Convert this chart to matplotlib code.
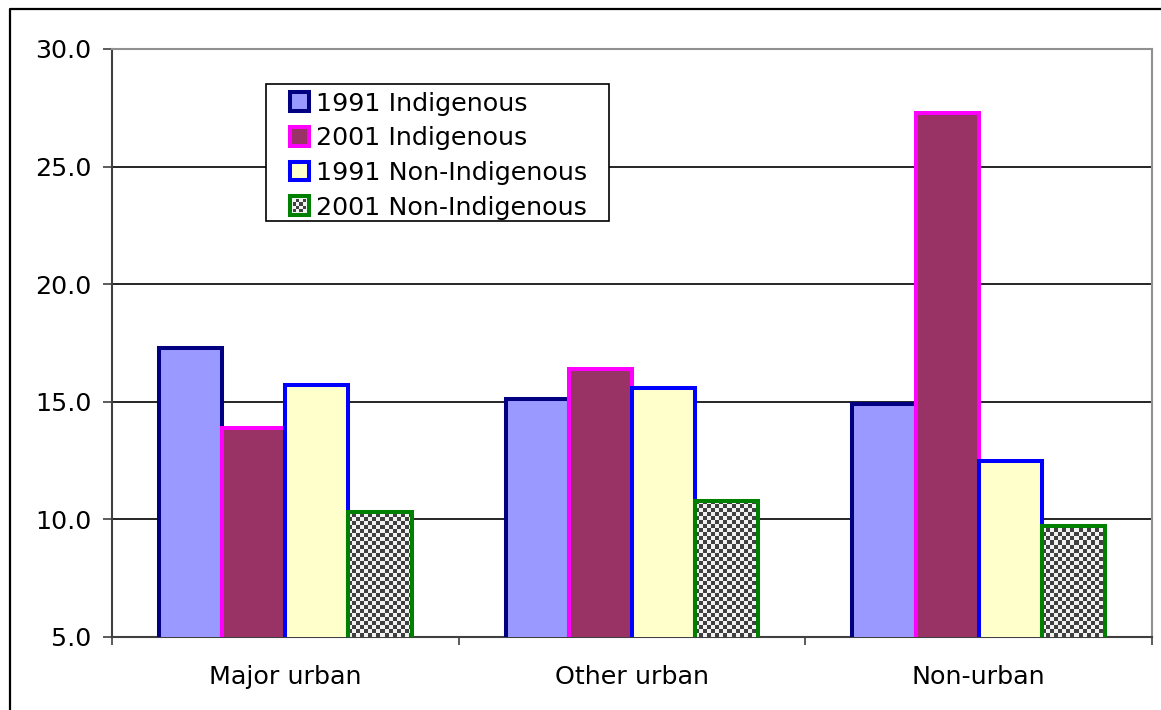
import numpy as np
import matplotlib
matplotlib.use("Agg")
import matplotlib.pyplot as plt
from matplotlib.patches import Rectangle
from matplotlib.lines import Line2D
from matplotlib.legend_handler import HandlerBase

categories = ["Major urban", "Other urban", "Non-urban"]
series_names = ["1991 Indigenous", "2001 Indigenous",
                "1991 Non-Indigenous", "2001 Non-Indigenous"]
ind_1991 = [17.3, 15.1, 14.9]
ind_2001 = [13.9, 16.4, 27.3]
non_1991 = [15.7, 15.6, 12.5]
non_2001 = [10.3, 10.8, 9.7]
y_ticks = [5.0, 10.0, 15.0, 20.0, 25.0, 30.0]

series_values = [ind_1991, ind_2001, non_1991, non_2001]
face_colors = ["#9999FF", "#993366", "#FFFFCC", None]
edge_colors = ["#000080", "#FF00FF", "#0000FF", "#008000"]

CHECK_DARK = "#404040"
CHECK_LIGHT = "#F2F2F2"
FONT_SIZE = 18.3

W, H = 1161, 710
fig = plt.figure(figsize=(W / 100, H / 100), dpi=100)
ax = fig.add_axes([112 / W, 1 - 637 / H, (1152 - 112) / W, (637 - 49) / H])

x = np.arange(len(categories))
width = 0.182
offsets = (np.arange(4) - 1.5) * width

checker = np.indices((400, 60)).sum(axis=0) % 2
checker_cmap = matplotlib.colors.ListedColormap([CHECK_LIGHT, CHECK_DARK])

for i, vals in enumerate(series_values):
    if face_colors[i] is not None:
        ax.bar(x + offsets[i], vals, width, bottom=0, color=face_colors[i],
               edgecolor=edge_colors[i], linewidth=2.9, zorder=3,
               label=series_names[i])
    else:
        bars = ax.bar(x + offsets[i], vals, width, bottom=0, color="none",
                      edgecolor=edge_colors[i], linewidth=2.9, zorder=4,
                      label=series_names[i])
        # checkerboard fill, clipped to each bar
        for b in bars:
            x0 = b.get_x()
            im = ax.imshow(checker, cmap=checker_cmap, interpolation="nearest",
                           extent=[x0, x0 + 60 * 0.01154, 5, 5 + 400 * 0.1703],
                           aspect="auto", zorder=3, origin="lower")
            im.set_clip_path(b)

ax.set_xlim(-0.5, 2.5)
ax.set_ylim(5, 30)
ax.set_yticks(y_ticks)
ax.set_yticklabels([f"{v:.1f}" for v in y_ticks])
ax.set_xticks(x)
ax.set_xticklabels(categories)
ax.set_xticks([-0.5, 0.5, 1.5, 2.5], minor=True)

ax.yaxis.grid(True, color="black", linewidth=1.2, zorder=0)
ax.set_axisbelow(True)

ax.tick_params(axis="y", direction="out", length=6.5, width=1.2,
               color="#404040", labelsize=FONT_SIZE, pad=8.5)
ax.tick_params(axis="x", which="major", length=0, labelsize=FONT_SIZE, pad=20.5)
ax.tick_params(axis="x", which="minor", direction="out", length=6,
               width=1.2, color="#404040")

for side in ["left", "bottom"]:
    ax.spines[side].set_color("#404040")
    ax.spines[side].set_linewidth(1.5)
for side in ["top", "right"]:
    ax.spines[side].set_color("#909090")
    ax.spines[side].set_linewidth(1.5)


class CheckerHandler(HandlerBase):
    def create_artists(self, legend, orig_handle, xdescent, ydescent,
                       width, height, fontsize, trans):
        artists = []
        n = 4
        pad = 2.0
        cw = (width - 2 * pad) / n
        ch = (height - 2 * pad) / n
        artists.append(Rectangle((-xdescent, -ydescent), width, height,
                                 facecolor=CHECK_LIGHT, edgecolor="none",
                                 transform=trans))
        for r in range(n):
            for c in range(n):
                if (r + c) % 2 == 0:
                    artists.append(Rectangle((-xdescent + pad + c * cw,
                                              -ydescent + pad + r * ch),
                                             cw, ch, facecolor=CHECK_DARK,
                                             edgecolor="none", transform=trans))
        artists.append(Rectangle((-xdescent, -ydescent), width, height,
                                 facecolor="none", edgecolor=edge_colors[3],
                                 linewidth=2.9, transform=trans))
        return artists


handles, labels = ax.get_legend_handles_labels()
handler_map = {handles[3]: CheckerHandler()}
leg = fig.legend(handles, labels, handler_map=handler_map,
                 loc="upper left", bbox_to_anchor=(290 / W, 1 - 91.5 / H),
                 bbox_transform=fig.transFigure, borderaxespad=0,
                 fontsize=FONT_SIZE, frameon=False,
                 handlelength=0.74, handleheight=0.74, handletextpad=0.3,
                 labelspacing=0.42, borderpad=0)
leg.set_zorder(10)

# legend box
fig.add_artist(Rectangle((266 / W, 1 - 221 / H), (609 - 266) / W, (221 - 84) / H,
                         transform=fig.transFigure, facecolor="white",
                         edgecolor="black", linewidth=1.2, zorder=9))

# outer chart border
fig.add_artist(Line2D([10 / W, 10 / W, 1.0], [0.0, 1 - 9 / H, 1 - 9 / H],
                      transform=fig.transFigure, color="black", linewidth=1.6))

fig.savefig("out.png", dpi=100)
